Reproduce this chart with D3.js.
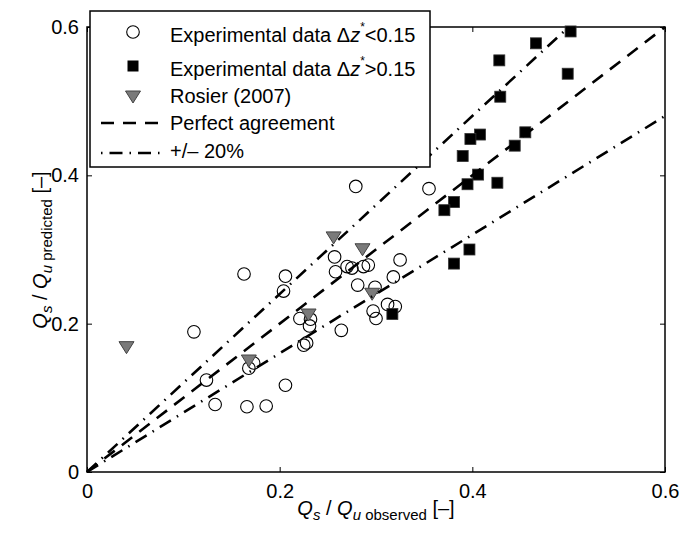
<!DOCTYPE html>
<html><head><meta charset="utf-8">
<script src="https://cdn.jsdelivr.net/npm/d3@7"></script>
<style>body{margin:0;background:#fff}svg{display:block;font-family:"Liberation Sans",Arial,sans-serif}</style>
</head><body><svg id="c" width="694" height="533"></svg>
<script>
const circlesX=[0.111,0.124,0.133,0.163,0.166,0.168,0.173,0.186,0.206,0.206,0.204,0.221,0.232,0.231,0.225,0.228,0.264,0.257,0.258,0.270,0.275,0.287,0.292,0.279,0.355,0.325,0.318,0.281,0.299,0.297,0.300,0.312,0.320];
const circlesY=[0.189,0.124,0.091,0.267,0.088,0.140,0.147,0.089,0.117,0.264,0.244,0.207,0.206,0.197,0.171,0.174,0.191,0.290,0.270,0.277,0.275,0.277,0.279,0.385,0.382,0.286,0.263,0.252,0.249,0.217,0.207,0.226,0.223];
const squaresX=[0.502,0.466,0.428,0.499,0.429,0.408,0.398,0.455,0.444,0.390,0.406,0.395,0.426,0.381,0.371,0.397,0.381,0.317];
const squaresY=[0.594,0.578,0.555,0.537,0.506,0.455,0.449,0.458,0.440,0.426,0.401,0.388,0.390,0.364,0.353,0.300,0.281,0.213];
const trianglesX=[0.041,0.168,0.256,0.286,0.296,0.230];
const trianglesY=[0.169,0.151,0.317,0.301,0.241,0.213];
const xTicks=[0,0.2,0.4,0.6];
const yTicks=[0,0.2,0.4,0.6];
const legendLabels=["Experimental data","Experimental data","Rosier (2007)","Perfect agreement","+/\u2013 20%"];

const svg=d3.select("#c");
const x=d3.scaleLinear().domain([0,0.6]).range([87,665]);
const y=d3.scaleLinear().domain([0,0.6]).range([472,27]);
const FS=20;

// axes
const gx=svg.append("g").attr("transform","translate(0,472)").call(d3.axisBottom(x).tickValues(xTicks).tickSize(-5).tickPadding(12).tickFormat(d3.format("")));
const gxt=svg.append("g").attr("transform","translate(0,27)").call(d3.axisTop(x).tickValues(xTicks).tickSize(-5).tickFormat(""));
const gy=svg.append("g").attr("transform","translate(87,0)").call(d3.axisLeft(y).tickValues(yTicks).tickSize(-5).tickPadding(8).tickFormat(d3.format("")));
const gyr=svg.append("g").attr("transform","translate(665,0)").call(d3.axisRight(y).tickValues(yTicks).tickSize(-5).tickFormat(""));
[gx,gxt,gy,gyr].forEach(g=>{g.select(".domain").remove();g.selectAll("line").attr("stroke","#000").attr("stroke-width",1);g.selectAll("text").attr("font-size",FS).attr("fill","#000").attr("font-family","Liberation Sans, Arial, sans-serif");});
svg.append("rect").attr("x",87).attr("y",27).attr("width",578).attr("height",445).attr("fill","none").attr("stroke","#000").attr("stroke-width",1.5);

// data
const cd=circlesX.map((v,i)=>[v,circlesY[i]]);
svg.append("g").selectAll("circle").data(cd).join("circle").attr("cx",d=>x(d[0])).attr("cy",d=>y(d[1])).attr("r",6.3).attr("fill","none").attr("stroke","#000").attr("stroke-width",1.1);
const sd=squaresX.map((v,i)=>[v,squaresY[i]]);
svg.append("g").selectAll("rect").data(sd).join("rect").attr("x",d=>x(d[0])-5.5).attr("y",d=>y(d[1])-5.5).attr("width",11).attr("height",11).attr("fill","#000").attr("stroke","#333").attr("stroke-width",0.8);
const td=trianglesX.map((v,i)=>[v,trianglesY[i]]);
const tri=(cx,cy)=>`M${cx-7.5},${cy-5}L${cx+7.5},${cy-5}L${cx},${cy+7}Z`;
svg.append("g").selectAll("path").data(td).join("path").attr("d",d=>tri(x(d[0]),y(d[1]))).attr("fill","#7a7a7a").attr("stroke","#444").attr("stroke-width",1);

// reference lines
const line=d3.line().x(d=>x(d[0])).y(d=>y(d[1]));
svg.append("path").attr("d",line([[0,0],[0.6,0.6]])).attr("stroke","#000").attr("stroke-width",2.6).attr("fill","none").attr("stroke-dasharray","13,9");
svg.append("path").attr("d",line([[0,0],[0.5,0.6]])).attr("stroke","#000").attr("stroke-width",2.6).attr("fill","none").attr("stroke-dasharray","13,7,1.5,7");
svg.append("path").attr("d",line([[0,0],[0.6,0.48]])).attr("stroke","#000").attr("stroke-width",2.6).attr("fill","none").attr("stroke-dasharray","13,7,1.5,7");

// legend
const lg=svg.append("g");
lg.append("rect").attr("x",90).attr("y",11).attr("width",340).attr("height",156).attr("fill","#fff").attr("stroke","#000").attr("stroke-width",1.5);
lg.append("circle").attr("cx",133).attr("cy",32).attr("r",6.3).attr("fill","none").attr("stroke","#000").attr("stroke-width",1.1);
lg.append("rect").attr("x",133-5.5).attr("y",66-5.5).attr("width",11).attr("height",11).attr("fill","#000");
lg.append("path").attr("d",tri(133,96)).attr("fill","#7a7a7a").attr("stroke","#444");
lg.append("line").attr("x1",101).attr("x2",163).attr("y1",123).attr("y2",123).attr("stroke","#000").attr("stroke-width",2.6).attr("stroke-dasharray","13,9");
lg.append("line").attr("x1",101).attr("x2",163).attr("y1",153).attr("y2",153).attr("stroke","#000").attr("stroke-width",2.6).attr("stroke-dasharray","1.5,7,13,7");
const ly=[42,76,103,130,158];
ly.forEach((yy,i)=>{
  const t=lg.append("text").attr("x",170).attr("y",yy).attr("font-size",FS).attr("fill","#000");
  t.append("tspan").text(legendLabels[i]);
  if(i<2){
    t.append("tspan").text(" \u0394");
    t.append("tspan").attr("font-style","italic").text("z");
    t.append("tspan").attr("font-size",12).attr("dy",-11).text("*");
    t.append("tspan").attr("dy",11).text(i==0?"<0.15":">0.15");
  }
});

// axis labels
const xl=svg.append("text").attr("x",376).attr("y",515).attr("text-anchor","middle").attr("font-size",FS).attr("fill","#000");
xl.append("tspan").attr("font-style","italic").text("Q");
xl.append("tspan").attr("font-style","italic").attr("font-size",15).attr("dy",5).text("s");
xl.append("tspan").attr("dy",-5).text(" / ");
xl.append("tspan").attr("font-style","italic").text("Q");
xl.append("tspan").attr("font-style","italic").attr("font-size",15).attr("dy",5).text("u");
xl.append("tspan").attr("font-size",15).text(" observed");
xl.append("tspan").attr("dy",-5).text(" [\u2013]");

const yl=svg.append("text").attr("transform","translate(47,250) rotate(-90)").attr("text-anchor","middle").attr("font-size",FS).attr("fill","#000");
yl.append("tspan").attr("font-style","italic").text("Q");
yl.append("tspan").attr("font-style","italic").attr("font-size",15).attr("dy",5).text("s");
yl.append("tspan").attr("dy",-5).text(" / ");
yl.append("tspan").attr("font-style","italic").text("Q");
yl.append("tspan").attr("font-style","italic").attr("font-size",15).attr("dy",5).text("u");
yl.append("tspan").attr("font-size",15).text(" predicted");
yl.append("tspan").attr("dy",-5).text(" [\u2013]");
</script></body></html>
